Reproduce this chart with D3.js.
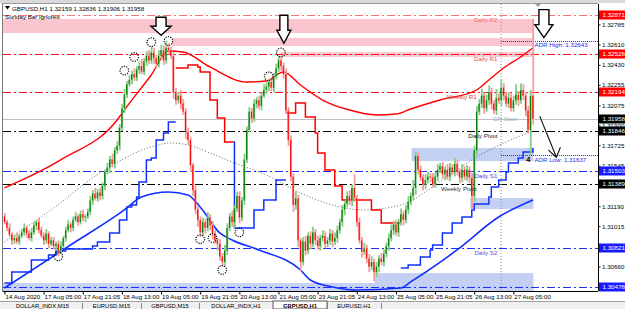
<!DOCTYPE html>
<html lang="en">
<head>
<meta charset="utf-8">
<title>GBPUSD,H1</title>
<script src="https://d3js.org/d3.v7.min.js"></script>
<style>
  body { margin: 0; background: #fff; }
  svg { display: block; font-family: "Liberation Sans", Arial, sans-serif; }
</style>
</head>
<body>
<svg width="625" height="309"></svg>
<script>
// ---- data ----
const timeLabels = ['14 Aug 2020', '17 Aug 05:00', '17 Aug 21:05', '18 Aug 13:00', '19 Aug 05:00', '19 Aug 21:05',
  '20 Aug 13:00', '21 Aug 05:00', '23 Aug 21:05', '24 Aug 13:00', '25 Aug 05:00', '25 Aug 21:05', '26 Aug 13:00', '27 Aug 05:00'];
const timeLabelBars = [0, 16, 32, 48, 64, 80, 96, 112, 128, 144, 160, 176, 192, 208];

const priceTicks = [1.32785, 1.32610, 1.32430, 1.32255, 1.32075, 1.31900, 1.31725, 1.31545, 1.31190, 1.31015, 1.30660];

// H1 closes, one per bar (open = previous close)
const firstOpen = 1.3110;
const closes = [
  1.3105, 1.3100, 1.3094, 1.3089, 1.3091, 1.3088, 1.3093, 1.3096, 1.3100, 1.3095, 1.3091, 1.3096, 1.3102, 1.3105, 1.3098, 1.3093,
  1.3089, 1.3095, 1.3086, 1.3089, 1.3084, 1.3086, 1.3080, 1.3084, 1.3091, 1.3098, 1.3103, 1.3100, 1.3107, 1.3110, 1.3105, 1.3112,
  1.3109, 1.3110, 1.3114, 1.3124, 1.3130, 1.3126, 1.3131, 1.3128, 1.3137, 1.3149, 1.3153, 1.3160, 1.3156, 1.3168, 1.3172, 1.3188,
  1.3205, 1.3217, 1.3226, 1.3230, 1.3235, 1.3232, 1.3239, 1.3242, 1.3237, 1.3246, 1.3251, 1.3247, 1.3254, 1.3249, 1.3244, 1.3251,
  1.3256, 1.3247, 1.3258, 1.3256, 1.3251, 1.3219, 1.3212, 1.3216, 1.3209, 1.3202, 1.3184, 1.3177, 1.3155, 1.3133, 1.3116, 1.3107,
  1.3096, 1.3105, 1.3100, 1.3109, 1.3102, 1.3095, 1.3089, 1.3086, 1.3075, 1.3070, 1.3080, 1.3100, 1.3110, 1.3105, 1.3117, 1.3128,
  1.3109, 1.3124, 1.3160, 1.3186, 1.3202, 1.3196, 1.3209, 1.3212, 1.3207, 1.3216, 1.3221, 1.3224, 1.3228, 1.3223, 1.3233, 1.3240,
  1.3247, 1.3242, 1.3235, 1.3203, 1.3177, 1.3145, 1.3120, 1.3126, 1.3089, 1.3070, 1.3088, 1.3080, 1.3093, 1.3086, 1.3096, 1.3089,
  1.3084, 1.3091, 1.3093, 1.3086, 1.3089, 1.3095, 1.3088, 1.3091, 1.3098, 1.3105, 1.3116, 1.3121, 1.3128, 1.3124, 1.3135, 1.3126,
  1.3105, 1.3089, 1.3079, 1.3082, 1.3073, 1.3066, 1.3070, 1.3061, 1.3066, 1.3073, 1.3070, 1.3077, 1.3084, 1.3091, 1.3098, 1.3103,
  1.3096, 1.3105, 1.3112, 1.3107, 1.3116, 1.3123, 1.3128, 1.3135, 1.3163, 1.3151, 1.3144, 1.3138, 1.3142, 1.3145, 1.3144, 1.3138,
  1.3145, 1.3151, 1.3154, 1.3147, 1.3151, 1.3145, 1.3153, 1.3149, 1.3156, 1.3149, 1.3144, 1.3151, 1.3145, 1.3151, 1.3144, 1.3128,
  1.3168, 1.3202, 1.3209, 1.3216, 1.3205, 1.3212, 1.3219, 1.3209, 1.3203, 1.3214, 1.3212, 1.3223, 1.3216, 1.3209, 1.3214, 1.3205,
  1.3212, 1.3217, 1.3212, 1.3221, 1.3216, 1.3203, 1.3186, 1.32159, 1.31958
];
// upper / lower wick length in pips
const wickUp = [
  3, 2, 4, 2, 3, 5, 2, 3, 4, 2, 3, 4, 3, 2, 4, 3,
  3, 4, 2, 3, 3, 2, 3, 4, 2, 3, 4, 2, 3, 4, 2, 3,
  4, 2, 3, 4, 3, 5, 3, 4, 3, 2, 4, 3, 5, 3, 4, 3,
  4, 5, 3, 4, 3, 5, 3, 4, 6, 3, 4, 5, 5, 4, 3, 5,
  5, 4, 6, 4, 3, 3, 4, 3, 5, 4, 3, 4, 3, 2, 4, 3,
  3, 4, 3, 5, 3, 4, 3, 2, 4, 3, 5, 4, 3, 5, 3, 4,
  4, 3, 5, 3, 4, 3, 4, 3, 4, 3, 5, 4, 3, 4, 3, 4,
  4, 3, 3, 5, 3, 4, 3, 6, 3, 2, 4, 5, 3, 4, 5, 3,
  4, 3, 5, 4, 3, 4, 3, 5, 4, 3, 4, 3, 4, 5, 3, 12,
  3, 4, 3, 5, 3, 4, 5, 3, 4, 3, 5, 4, 3, 4, 5, 3,
  4, 3, 5, 3, 4, 5, 3, 7, 4, 3, 4, 3, 5, 4, 3, 4,
  4, 5, 3, 4, 3, 5, 4, 3, 5, 4, 3, 5, 3, 4, 3, 4,
  4, 5, 4, 6, 3, 5, 6, 4, 3, 8, 4, 7, 4, 3, 5, 4,
  4, 9, 3, 6, 5, 3, 4, 5, 67.7
];
const wickDown = [
  2, 3, 2, 4, 3, 2, 3, 2, 3, 4, 2, 3, 2, 4, 3, 2,
  4, 3, 4, 2, 3, 4, 5, 3, 2, 3, 2, 4, 3, 2, 3, 2,
  3, 4, 2, 3, 4, 2, 3, 4, 3, 4, 2, 5, 3, 4, 3, 4,
  3, 4, 3, 2, 4, 3, 3, 4, 2, 3, 4, 3, 3, 5, 4, 3,
  3, 4, 3, 4, 3, 6, 4, 3, 5, 3, 6, 4, 6, 5, 4, 6,
  4, 3, 5, 3, 4, 5, 3, 6, 4, 4, 3, 4, 3, 4, 5, 3,
  5, 3, 4, 3, 2, 4, 3, 4, 3, 4, 2, 3, 4, 3, 4, 3,
  3, 4, 4, 3, 5, 4, 6, 4, 6, 8, 3, 4, 3, 5, 3, 4,
  3, 4, 3, 4, 3, 4, 5, 3, 4, 3, 4, 5, 3, 4, 5, 3,
  4, 3, 5, 3, 4, 5, 3, 8, 4, 5, 3, 4, 3, 4, 3, 4,
  3, 4, 3, 5, 3, 4, 3, 4, 6, 4, 3, 5, 4, 3, 4, 3,
  3, 4, 3, 4, 5, 3, 4, 3, 4, 3, 5, 4, 3, 4, 5, 12,
  5, 4, 3, 4, 5, 3, 4, 5, 3, 4, 3, 5, 4, 3, 4, 3,
  3, 4, 5, 3, 4, 5, 3, 22, 5.2
];

// indicator lines, [bar, price]
const redMA = [[0, 1.31350], [23, 1.31596], [47, 1.31973], [49, 1.32034], [60, 1.32342], [67, 1.32552], [73, 1.32544],
  [84, 1.32412], [99, 1.32280], [107, 1.32289], [114, 1.32368], [121, 1.32254], [130, 1.32122], [141, 1.32034],
  [152, 1.31991], [160, 1.31999], [166, 1.32043], [178, 1.32122], [193, 1.32210], [198, 1.32298], [204, 1.32403],
  [211, 1.32500], [216, 1.32579]];
const blueMA = [[0, 1.30472], [27, 1.30849], [49, 1.31157], [56, 1.31271], [67, 1.31315], [75, 1.31289], [80, 1.31183],
  [88, 1.30955], [93, 1.30893], [104, 1.30806], [121, 1.30630], [125, 1.30542], [134, 1.30481], [144, 1.30454],
  [162, 1.30472], [166, 1.30525], [185, 1.30806], [202, 1.31095], [216, 1.31244]];
const dottedMA = [[0, 1.30876], [19, 1.31157], [39, 1.31481], [60, 1.31710], [68, 1.31745], [75, 1.31727], [84, 1.31657],
  [93, 1.31578], [107, 1.31464], [121, 1.31306], [134, 1.31201], [147, 1.31157], [162, 1.31201], [179, 1.31420],
  [193, 1.31622], [205, 1.31754], [214, 1.31833]];

// trailing stop steps, [bar, level]
const stopUp1 = [[0, 1.30516], [3, 1.30612], [11, 1.30718], [18, 1.30762], [21, 1.30797], [25, 1.30814], [36, 1.30841],
  [38, 1.30876], [43, 1.30955], [47, 1.31069], [50, 1.31183], [52, 1.31201], [54, 1.31271], [55, 1.31402], [58, 1.31596],
  [60, 1.31613], [62, 1.31771], [65, 1.31833], [67, 1.31929], [70, 1.31929]];
const stopDown1 = [[70, 1.32403], [75, 1.32429], [79, 1.32412], [80, 1.32368], [84, 1.32122], [87, 1.31964], [90, 1.31754], [93.5, 1.31754]];
const stopUp2 = [[93.5, 1.31754], [94, 1.30999], [102, 1.31157], [106, 1.31244], [111, 1.31420], [115, 1.31420]];
const stopDown2 = [[115, 1.32008], [119, 1.32096], [123, 1.31973], [127, 1.31833], [128, 1.31657], [131, 1.31508],
  [135, 1.31367], [138, 1.31244], [150, 1.31157], [154, 1.31043], [162, 1.31043]];
const stopUp3 = [[162, 1.30648], [165, 1.30674], [170, 1.30744], [174, 1.30806], [175, 1.30849], [179, 1.30955],
  [183, 1.31043], [187, 1.31095], [191, 1.31157], [192, 1.31209], [198, 1.31271], [199, 1.31359], [202, 1.31420],
  [205, 1.31490], [206, 1.31569], [210, 1.31613], [212, 1.31666], [216, 1.31701]];

const fractalHigh = [[49, 1.3238], [53, 1.3250], [60, 1.3263], [67, 1.3264], [108, 1.3233], [113, 1.3254]];
const fractalLow = [[22, 1.3075], [80, 1.3090], [85, 1.3091], [89, 1.3063], [96, 1.3096]];

// supply / demand zones: [fromBar, toBar, priceTop, priceBottom]
const pinkZones = [[0, 216, 1.32833, 1.32710], [69, 216, 1.32666, 1.32596], [113.5, 216, 1.32543, 1.32500]];
const blueZones = [[167, 216, 1.31701, 1.31586], [191, 216, 1.31262, 1.31165], [0, 216, 1.30515, 1.30440], [152, 216, 1.30603, 1.30440]];

const levelNames = ['Daily R2', 'Daily R1', 'Weekly R1', 'Daily Pivot', 'Daily S1', 'Weekly Pivot', 'Daily S2', ''];
const levelPrices = [1.32871, 1.32528, 1.32194, 1.31846, 1.31503, 1.31389, 1.30821, 1.30478];
const lastPrice = 1.31958;
const adrHigh = 1.32643, adrLow = 1.31637;
const dayStartBar = 203;
const downArrows = [[64, 1.3269], [114.2, 1.3262], [220.5, 1.3267]];
const handArrow = [[218.8, 1.3198], [222, 1.3181], [225.6, 1.3162]];
const tabNames = ['DOLLAR_INDX,M15', 'EURUSD,M15', 'GBPUSD,M15', 'DOLLAR_INDX,H1', 'GBPUSD,H1', 'EURUSD,H1'];

// ---- layout ----
const svg = d3.select('svg');
const width = +svg.attr('width');
const height = +svg.attr('height');
const plot = { left: 3, right: 598, top: 4, bottom: 291 };
const pip = 0.0001;
const fs = 6.2;

const x = d3.scaleLinear().domain([-0.6, 242.6]).range([plot.left, plot.right]);
const y = d3.scaleLinear().domain([1.30478, 1.32871]).range([287.3, 14.7]);

svg.append('rect').attr('width', width).attr('height', height).attr('fill', '#fff');
svg.append('rect').attr('x', 0).attr('y', 0).attr('width', width).attr('height', 3).attr('fill', '#d9d9d9');

svg.append('clipPath').attr('id', 'clip')
  .append('rect').attr('x', plot.left).attr('y', plot.top)
  .attr('width', plot.right - plot.left).attr('height', plot.bottom - plot.top);
const g = svg.append('g').attr('clip-path', 'url(#clip)');

// zones
g.selectAll('rect.pink').data(pinkZones).enter().append('rect')
  .attr('x', d => x(d[0]) - 1.5).attr('width', d => x(d[1]) - x(d[0]) + 2)
  .attr('y', d => y(d[2])).attr('height', d => y(d[3]) - y(d[2]))
  .attr('fill', '#fbc5cf');
g.selectAll('rect.blue').data(blueZones).enter().append('rect')
  .attr('x', d => x(d[0]) - 1.5).attr('width', d => x(d[1]) - x(d[0]) + 2)
  .attr('y', d => y(d[2])).attr('height', d => y(d[3]) - y(d[2]))
  .attr('fill', '#c3d0f3');

// horizontal levels
const levelColor = ['#f47a7a', '#ff1010', '#ff1010', '#000', '#1d2cff', '#000', '#1d2cff', '#1d2cff'];
g.selectAll('line.level').data(levelPrices).enter().append('line')
  .attr('x1', plot.left).attr('x2', plot.right)
  .attr('y1', d => Math.round(y(d)) + 0.5).attr('y2', d => Math.round(y(d)) + 0.5)
  .attr('stroke', (d, i) => levelColor[i]).attr('stroke-width', 1)
  .attr('stroke-dasharray', '8,3,2,3');

g.append('line').attr('x1', plot.left).attr('x2', plot.right)
  .attr('y1', Math.round(y(lastPrice)) + 0.5).attr('y2', Math.round(y(lastPrice)) + 0.5)
  .attr('stroke', '#c0c0c0');

// day separator + ADR
g.append('line').attr('x1', x(dayStartBar)).attr('x2', x(dayStartBar))
  .attr('y1', plot.top).attr('y2', plot.bottom)
  .attr('stroke', '#8a8a8a').attr('stroke-dasharray', '1,2');
[adrHigh, adrLow].forEach(p => {
  g.append('line').attr('x1', x(dayStartBar)).attr('x2', plot.right)
    .attr('y1', Math.round(y(p)) + 0.5).attr('y2', Math.round(y(p)) + 0.5)
    .attr('stroke', '#2020ff').attr('stroke-dasharray', '1,1');
});

// moving averages
const smooth = d3.line().x(d => x(d[0])).y(d => y(d[1])).curve(d3.curveMonotoneX);
g.append('path').attr('d', smooth(dottedMA)).attr('fill', 'none')
  .attr('stroke', '#555').attr('stroke-width', 0.9).attr('stroke-dasharray', '1,2');
g.append('path').attr('d', smooth(blueMA)).attr('fill', 'none')
  .attr('stroke', '#1030ff').attr('stroke-width', 1.6);
g.append('path').attr('d', smooth(redMA)).attr('fill', 'none')
  .attr('stroke', '#ff0000').attr('stroke-width', 1.4);

// trailing stops
const step = d3.line().x(d => x(d[0])).y(d => y(d[1])).curve(d3.curveStepAfter);
[stopUp1, stopUp2, stopUp3].forEach(s => g.append('path').attr('d', step(s)).attr('fill', 'none')
  .attr('stroke', '#1030ff').attr('stroke-width', 1.5));
[stopDown1, stopDown2].forEach(s => g.append('path').attr('d', step(s)).attr('fill', 'none')
  .attr('stroke', '#ff0000').attr('stroke-width', 1.5));

// candles
const candles = closes.map((c, i) => {
  const o = i === 0 ? firstOpen : closes[i - 1];
  return { i, o, c, h: Math.max(o, c) + wickUp[i] * pip, l: Math.min(o, c) - wickDown[i] * pip };
});
const cg = g.append('g');
cg.selectAll('line').data(candles).enter().append('line')
  .attr('x1', d => x(d.i) + 0.3).attr('x2', d => x(d.i) + 0.3)
  .attr('y1', d => y(d.h)).attr('y2', d => y(d.l))
  .attr('stroke', d => d.c >= d.o ? '#86cc86' : '#f59c9c').attr('stroke-width', 1.8);
cg.selectAll('rect').data(candles).enter().append('rect')
  .attr('x', d => x(d.i) - 0.7).attr('width', 1.3)
  .attr('y', d => y(Math.max(d.o, d.c)))
  .attr('height', d => Math.max(0.8, Math.abs(y(d.o) - y(d.c))))
  .attr('fill', d => d.c >= d.o ? '#078407' : '#ff1010');

// fractals
g.selectAll('circle.fr').data(fractalHigh.concat(fractalLow)).enter().append('circle')
  .attr('cx', d => x(d[0])).attr('cy', d => y(d[1])).attr('r', 4.3)
  .attr('fill', 'none').attr('stroke', '#111').attr('stroke-width', 1.2).attr('stroke-dasharray', '1.2,1.2');

// level labels
const labelEnd = [201.5, 201.5, 193, 201.5, 201.5, 193, 201.5, 0];
const labelColor = ['#f07070', '#e24a4a', '#d23c3c', '#222', '#3a48e0', '#333', '#4a58e0', '#000'];
g.selectAll('text.lvl').data(levelPrices).enter().append('text')
  .attr('x', (d, i) => x(labelEnd[i])).attr('y', d => y(d) + 7)
  .attr('text-anchor', 'end').attr('font-size', fs)
  .attr('fill', (d, i) => labelColor[i]).text((d, i) => levelNames[i]);

g.append('text').attr('x', x(199.8)).attr('y', y(lastPrice) + 2.5)
  .attr('font-size', fs).attr('fill', '#9ab2cc').text('DR Start');
svg.append('text').attr('x', x(216.6)).attr('y', y(adrHigh) + 6)
  .attr('font-size', fs).attr('fill', '#2828e8').text('ADR High: ' + adrHigh.toFixed(5));
svg.append('text').attr('x', x(216.6)).attr('y', y(adrLow) + 7)
  .attr('font-size', fs).attr('fill', '#2828e8').text('ADR Low: ' + adrLow.toFixed(5));
svg.append('text').attr('x', x(213.2)).attr('y', y(adrLow) + 7)
  .attr('font-size', 8).attr('font-weight', 'bold').attr('fill', '#000').text('4');

// annotations
const arrowSize = [{ w: 10, h: 9, s: 5, t: 18 }, { w: 7, h: 13, s: 4, t: 28 }, { w: 9, h: 13, s: 5, t: 28 }];
svg.selectAll('path.down').data(downArrows).enter().append('path')
  .attr('transform', d => `translate(${x(d[0])},${y(d[1])})`)
  .attr('d', (d, i) => {
    const a = arrowSize[i];
    return `M0,0 L${-a.w},${-a.h} L${-a.s},${-a.h} L${-a.s},${-a.t} L${a.s},${-a.t} L${a.s},${-a.h} L${a.w},${-a.h} Z`;
  })
  .attr('fill', '#fff').attr('stroke', '#000').attr('stroke-width', 1.4).attr('stroke-linejoin', 'miter');

const hand = d3.line().x(d => x(d[0])).y(d => y(d[1])).curve(d3.curveCatmullRom);
svg.append('path').attr('d', hand(handArrow)).attr('fill', 'none').attr('stroke', '#111').attr('stroke-width', 1.1);
const tip = handArrow[handArrow.length - 1];
svg.append('path')
  .attr('transform', `translate(${x(tip[0])},${y(tip[1])})`)
  .attr('d', 'M-8,-7 L0,0 L4,-10').attr('fill', 'none').attr('stroke', '#111').attr('stroke-width', 1.1);

// frame
svg.append('line').attr('x1', 2.5).attr('x2', 2.5).attr('y1', 3).attr('y2', plot.bottom).attr('stroke', '#7a7a7a');
svg.append('line').attr('x1', 2.5).attr('x2', plot.right).attr('y1', 3.5).attr('y2', 3.5).attr('stroke', '#9a9a9a');
svg.append('line').attr('x1', 2.5).attr('x2', plot.right).attr('y1', plot.bottom + 0.5).attr('y2', plot.bottom + 0.5).attr('stroke', '#000');

// header
svg.append('path').attr('d', 'M5,6 L10,6 L7.5,9.5 Z').attr('fill', '#000');
svg.append('text').attr('x', 12).attr('y', 10.5).attr('font-size', fs).attr('fill', '#000')
  .text('GBPUSD,H1  1.32159 1.32836 1.31906 1.31958');
svg.append('text').attr('x', 5).attr('y', 19).attr('font-size', fs).attr('fill', '#000').text('Sunday Bar ignored');
svg.append('path').attr('d', 'M535,4 L541,4 L538,7 Z').attr('fill', '#999');

// price axis
const yAxisG = svg.append('g').attr('transform', `translate(${plot.right + 0.5},0)`)
  .call(d3.axisRight(y).tickValues(priceTicks).tickFormat(d3.format('.5f')).tickSize(2).tickSizeOuter(0));
yAxisG.select('.domain').attr('d', `M0,${plot.top}V${plot.bottom}`).attr('stroke', '#000');
yAxisG.selectAll('text').attr('font-size', fs).attr('font-family', '"Liberation Sans", Arial, sans-serif').attr('x', 3.5);

const boxFill = ['#ff0000', '#ff0000', '#ff0000', '#000', '#1a1aff', '#000', '#1a1aff', '#1a1aff'];
const boxes = levelPrices.map((p, i) => ({ p, fill: boxFill[i] })).concat([{ p: lastPrice, fill: '#000' }]);
const bg = svg.selectAll('g.box').data(boxes).enter().append('g')
  .attr('transform', d => `translate(${plot.right + 1},${Math.round(y(d.p))})`);
bg.append('rect').attr('x', 0).attr('y', -4.5).attr('width', width - plot.right - 1).attr('height', 9).attr('fill', d => d.fill);
bg.append('text').attr('x', 3.5).attr('y', 2.3).attr('font-size', fs).attr('fill', '#fff').text(d => d.p.toFixed(5));

// time axis
const xAxisG = svg.append('g').attr('transform', `translate(0,${plot.bottom + 0.5})`)
  .call(d3.axisBottom(x).tickValues(timeLabelBars).tickFormat((d, i) => timeLabels[i]).tickSize(3));
xAxisG.select('.domain').remove();
xAxisG.selectAll('text').attr('text-anchor', 'start').attr('dx', 0).attr('x', 0.5).attr('y', 3)
  .attr('font-size', fs).attr('font-family', '"Liberation Sans", Arial, sans-serif');

// symbol tabs
const tabEdges = [3, 82, 141, 199, 273, 327, 381];
svg.append('rect').attr('x', 0).attr('y', 301).attr('width', width).attr('height', 8).attr('fill', '#f0f0f0');
svg.append('line').attr('x1', 0).attr('x2', width).attr('y1', 301.5).attr('y2', 301.5).attr('stroke', '#a0a0a0');
tabNames.forEach((t, i) => {
  const active = t === 'GBPUSD,H1';
  if (active) svg.append('rect').attr('x', tabEdges[i]).attr('y', 301).attr('width', tabEdges[i + 1] - tabEdges[i])
    .attr('height', 8).attr('fill', '#fff').attr('stroke', '#555');
  svg.append('line').attr('x1', tabEdges[i + 1] + 0.5).attr('x2', tabEdges[i + 1] + 0.5).attr('y1', 303).attr('y2', 309).attr('stroke', '#888');
  svg.append('text').attr('x', (tabEdges[i] + tabEdges[i + 1]) / 2).attr('y', 308.3).attr('text-anchor', 'middle')
    .attr('font-size', 5.8).attr('font-weight', active ? 'bold' : 'normal').attr('fill', '#000').text(t);
});
</script>
</body>
</html>
